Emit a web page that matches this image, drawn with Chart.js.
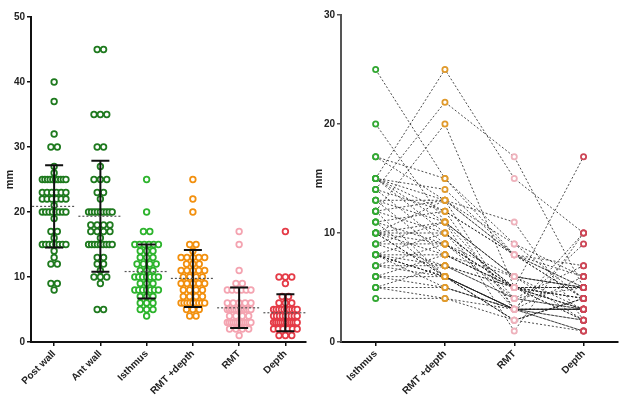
<!DOCTYPE html>
<html>
<head>
<meta charset="utf-8">
<script src="https://cdn.jsdelivr.net/npm/chart.js@4/dist/chart.umd.min.js"></script>
<style>
html, body { margin: 0; padding: 0; background: #fff; }
#wrap { position: relative; width: 624px; height: 400px; }
#left { position: absolute; left: 0; top: 0; }
#right { position: absolute; left: 312px; top: 0; }
</style>
</head>
<body>
<div id="wrap">
    <canvas id="left" width="312" height="400"></canvas>
    <canvas id="right" width="312" height="400"></canvas>
</div>
<script>
// categories
const leftCats = ['Post wall', 'Ant wall', 'Isthmus', 'RMT +depth', 'RMT', 'Depth'];
const pairedCats = ['Isthmus', 'RMT +depth', 'RMT', 'Depth'];
const leftTicks = [0, 10, 20, 30, 40, 50];
const rightTicks = [0, 10, 20, 30];

// wall thickness (mm)
const postWall = [40, 37, 32, 30, 30, 27, 26, 25, 25, 25, 25, 25, 25, 25, 25, 25, 25,
    23, 23, 23, 23, 23, 23, 22, 22, 22, 22, 22, 22, 21, 20, 20, 20, 20, 20, 20, 20, 20,
    19, 17, 17, 16, 15, 15, 15, 15, 15, 15, 15, 15, 14, 13, 12, 12, 9, 9, 8];
const antWall = [45, 45, 35, 35, 35, 30, 30, 27, 25, 25, 25, 23, 23, 22,
    20, 20, 20, 20, 20, 20, 20, 20, 20, 18, 18, 18, 18, 17, 17, 17, 17, 16,
    15, 15, 15, 15, 15, 15, 15, 15, 15, 13, 13, 12, 12, 11, 10, 10, 10, 9, 5, 5];

// paired measurements, one entry per patient (same order in every list)
const isthmus = [25, 20, 17, 17, 15, 15, 15, 15, 15, 15, 14, 14, 14, 13, 13, 13, 12, 12, 12, 12,
    11, 11, 11, 10, 10, 10, 10, 10, 10, 10, 9, 9, 9, 8, 8, 8, 8, 8, 8, 8,
    7, 7, 7, 6, 6, 6, 5, 5, 5, 4];
const rmtDepth = [15, 11, 15, 13, 25, 14, 13, 12, 11, 10, 22, 12, 9, 13, 11, 8, 20, 13, 10, 6,
    12, 9, 6, 13, 11, 10, 9, 8, 6, 6, 11, 9, 7, 10, 8, 7, 6, 6, 6, 5,
    9, 7, 6, 8, 6, 5, 7, 5, 4, 4];
const rmt = [8, 6, 9, 8, 15, 8, 8, 8, 6, 5, 17, 8, 5, 11, 6, 5, 5, 9, 5, 3,
    3, 5, 3, 3, 4, 5, 4, 5, 3, 2, 1, 6, 4, 3, 5, 4, 3, 3, 2, 3,
    5, 5, 3, 6, 2, 3, 5, 3, 3, 2];
const depth = [7, 5, 6, 5, 10, 6, 5, 4, 5, 5, 5, 4, 4, 2, 5, 3, 17, 4, 5, 3,
    9, 4, 3, 10, 7, 5, 5, 3, 3, 4, 10, 3, 3, 6, 3, 3, 3, 3, 4, 2,
    4, 2, 3, 2, 4, 2, 2, 1, 1, 1];

const leftGroups = [postWall, antWall, isthmus, rmtDepth, rmt, depth];
const pairedGroups = [isthmus, rmtDepth, rmt, depth];

const leftColors = ['#1f7a1f', '#1f7a1f', '#2db42d', '#f2900f', '#f4a4b1', '#e53b47'];
const rightColors = ['#33a833', '#e09a2c', '#eeb2bc', '#cc4656'];

Chart.defaults.font.family = '"Liberation Sans", Arial, sans-serif';
Chart.defaults.font.weight = 'bold';
Chart.defaults.font.size = 10;
Chart.defaults.color = '#222';

// spread equal values sideways like a column scatter
const leftUnitPx = 47;
function swarm(values, index) {
    const counts = {};
    values.forEach(v => { counts[v] = (counts[v] || 0) + 1; });
    const seen = {};
    return values.map(v => {
        const n = counts[v];
        const k = seen[v] = (seen[v] || 0) + 1;
        const step = n > 1 ? Math.min(6.5, 24 / (n - 1)) : 0;
        const off = (k - 1 - (n - 1) / 2) * step / leftUnitPx;
        return { x: index + off, y: v };
    });
}

function stats(values) {
    const mean = values.reduce((a, b) => a + b, 0) / values.length;
    const sd = Math.sqrt(values.reduce((a, b) => a + (b - mean) * (b - mean), 0) / (values.length - 1));
    return { mean, sd };
}

const meanSdPlugin = {
    id: 'meanSd',
    afterDatasetsDraw(chart) {
        const { ctx, scales: { x, y } } = chart;
        ctx.save();
        leftGroups.forEach((vals, i) => {
            const s = stats(vals);
            const cx = x.getPixelForValue(i);
            const top = y.getPixelForValue(s.mean + s.sd);
            const bot = y.getPixelForValue(Math.max(s.mean - s.sd, 0));
            const mid = y.getPixelForValue(s.mean);
            ctx.strokeStyle = '#111';
            ctx.lineWidth = 2;
            ctx.setLineDash([]);
            ctx.beginPath();
            ctx.moveTo(cx, top); ctx.lineTo(cx, bot);
            ctx.moveTo(cx - 9, top); ctx.lineTo(cx + 9, top);
            ctx.moveTo(cx - 9, bot); ctx.lineTo(cx + 9, bot);
            ctx.stroke();
            ctx.strokeStyle = '#555';
            ctx.lineWidth = 1.2;
            ctx.setLineDash([2, 2]);
            ctx.beginPath();
            ctx.moveTo(cx - 22, mid); ctx.lineTo(cx + 22, mid);
            ctx.stroke();
        });
        ctx.restore();
    }
};

function catAxis(cats, min, max, height) {
    return {
        type: 'linear',
        min: min,
        max: max,
        afterBuildTicks: s => { s.ticks = cats.map((c, i) => ({ value: i })); },
        afterFit: s => { s.height = height; },
        ticks: {
            callback: v => cats[v],
            minRotation: 45,
            maxRotation: 45,
            autoSkip: false,
            padding: 2
        },
        grid: { drawOnChartArea: false, tickLength: 4, color: '#111', lineWidth: 1.5 },
        border: { color: '#111', width: 2 }
    };
}

function valueAxis(ticks, width, borderColor) {
    return {
        min: ticks[0],
        max: ticks[ticks.length - 1],
        afterBuildTicks: s => { s.ticks = ticks.map(v => ({ value: v })); },
        afterFit: s => { s.width = width; },
        title: { display: true, text: 'mm', font: { size: 11, weight: 'bold' }, padding: { top: 0, bottom: 0 } },
        ticks: { padding: 2 },
        grid: { drawOnChartArea: false, tickLength: 4, color: borderColor, lineWidth: 1.5 },
        border: { color: borderColor, width: 2 }
    };
}

new Chart(document.getElementById('left'), {
    type: 'scatter',
    data: {
        datasets: leftGroups.map((vals, i) => ({
            data: swarm(vals, i),
            pointRadius: 2.8,
            pointBorderWidth: 1.8,
            pointBorderColor: leftColors[i],
            pointBackgroundColor: '#fff'
        }))
    },
    options: {
        responsive: false,
        animation: false,
        layout: { padding: { top: 17, right: 2, left: 3, bottom: 0 } },
        plugins: { legend: { display: false }, tooltip: { enabled: false } },
        scales: {
            x: catAxis(leftCats, -0.5, 5.45, 58),
            y: valueAxis(leftTicks, 28, '#111')
        }
    },
    plugins: [meanSdPlugin]
});

// right panel: one dashed line per patient, colored points on top
const pointSets = pairedGroups.map((vals, i) => ({
    data: vals.map(v => ({ x: i, y: v })),
    order: 0,
    pointRadius: 2.6,
    pointBorderWidth: 1.8,
    pointBorderColor: rightColors[i],
    pointBackgroundColor: '#fff',
    showLine: false
}));
const lineSets = isthmus.map((v, p) => ({
    data: pairedGroups.map((vals, i) => ({ x: i, y: vals[p] })),
    order: 1,
    showLine: true,
    pointRadius: 0,
    borderColor: 'rgba(30,30,30,0.8)',
    borderWidth: 1,
    borderDash: [2, 2]
}));

new Chart(document.getElementById('right'), {
    type: 'scatter',
    data: { datasets: pointSets.concat(lineSets) },
    options: {
        responsive: false,
        animation: false,
        layout: { padding: { top: 15, right: 2, left: 0, bottom: 0 } },
        plugins: { legend: { display: false }, tooltip: { enabled: false } },
        scales: {
            x: catAxis(pairedCats, -0.5, 3.5, 58),
            y: valueAxis(rightTicks, 29, '#555')
        }
    }
});
</script>
</body>
</html>
